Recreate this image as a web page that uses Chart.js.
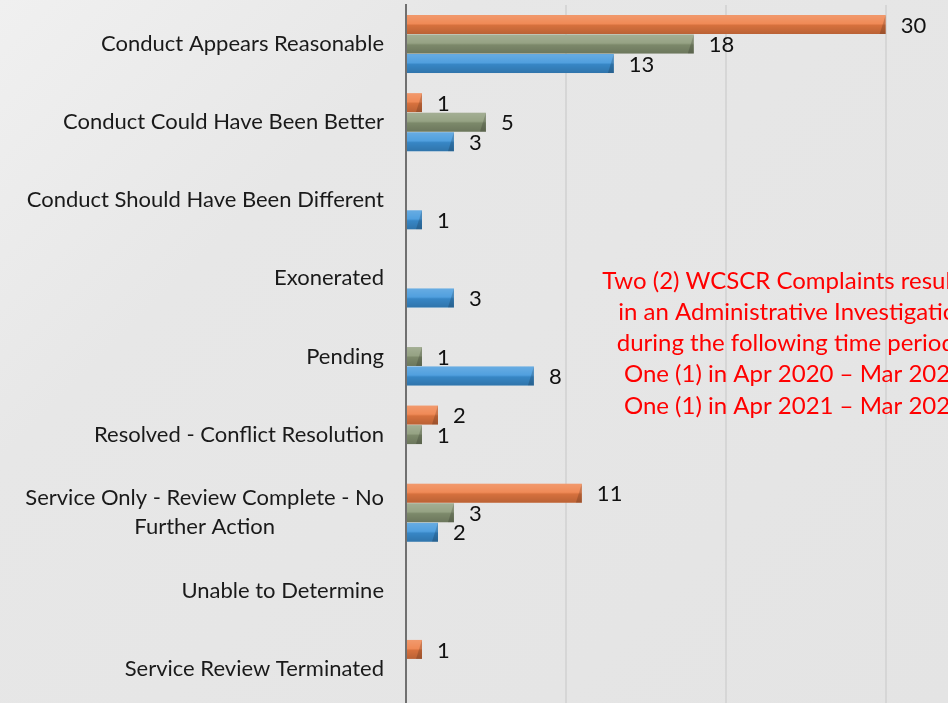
<!DOCTYPE html>
<html>
<head>
<meta charset="utf-8">
<script src="https://cdn.jsdelivr.net/npm/chart.js@4.4.1/dist/chart.umd.min.js"></script>
<style>
  html, body { margin: 0; padding: 0; overflow: hidden; }
  body {
    width: 948px;
    height: 703px;
    background: linear-gradient(135deg, #f0f0f0 0%, #e7e7e7 28%, #e4e4e4 100%);
  }
  .chart-wrap { position: relative; width: 948px; height: 708px; }
</style>
</head>
<body>
<div class="chart-wrap"><canvas id="outcomeChart"></canvas></div>
<script>
const categories = [
  "Conduct Appears Reasonable",
  "Conduct Could Have Been Better",
  "Conduct Should Have Been Different",
  "Exonerated",
  "Pending",
  "Resolved - Conflict Resolution",
  ["Service Only - Review Complete - No", "Further Action"],
  "Unable to Determine",
  "Service Review Terminated"
];

const orangeValues = [30, 1, null, null, null, 2, 11, null, 1];
const greenValues = [18, 5, null, null, 1, 1, 3, null, null];
const blueValues = [13, 3, 1, 3, 8, null, 2, null, null];

const noteLines = [
  "Two (2) WCSCR Complaints resulted",
  "in an Administrative Investigation",
  "during the following time periods:",
  "One (1) in Apr 2020 \u2013 Mar 2021",
  "One (1) in Apr 2021 \u2013 Mar 2022"
];

const FONT = "Lato, 'Open Sans', sans-serif";

// light top / dark bottom shading plus a small end bevel
const barShading = {
  id: "barShading",
  afterDatasetsDraw(chart) {
    const ctx = chart.ctx;
    chart.data.datasets.forEach((ds, di) => {
      chart.getDatasetMeta(di).data.forEach((el, i) => {
        if (ds.data[i] == null) return;
        const { x, y, base, height } = el.getProps(["x", "y", "base", "height"], true);
        const left = Math.min(x, base);
        const right = Math.max(x, base);
        const w = right - left;
        const top = y - height / 2;
        const g = ctx.createLinearGradient(0, top, 0, top + height);
        g.addColorStop(0, "rgba(255,255,255,0.22)");
        g.addColorStop(0.45, "rgba(255,255,255,0.10)");
        g.addColorStop(0.55, "rgba(0,0,0,0.10)");
        g.addColorStop(1, "rgba(0,0,0,0.22)");
        ctx.save();
        ctx.fillStyle = g;
        ctx.fillRect(left, top, w, height);
        const bev = Math.min(6, w / 2);
        ctx.fillStyle = "rgba(0,0,0,0.16)";
        ctx.beginPath();
        ctx.moveTo(right - bev, top + height);
        ctx.lineTo(right, top);
        ctx.lineTo(right, top + height);
        ctx.closePath();
        ctx.fill();
        ctx.restore();
      });
    });
  }
};

const valueLabels = {
  id: "valueLabels",
  afterDatasetsDraw(chart) {
    const ctx = chart.ctx;
    ctx.save();
    ctx.font = "22px " + FONT;
    ctx.fillStyle = "#111";
    ctx.textAlign = "left";
    ctx.textBaseline = "middle";
    chart.data.datasets.forEach((ds, di) => {
      chart.getDatasetMeta(di).data.forEach((el, i) => {
        if (ds.data[i] == null) return;
        ctx.fillText(String(ds.data[i]), el.x + 15, el.y + 1);
      });
    });
    ctx.restore();
  }
};

// category labels: right aligned block, lines centred inside it
const categoryLabels = {
  id: "categoryLabels",
  afterDraw(chart) {
    const ctx = chart.ctx;
    const yScale = chart.scales.y;
    const right = chart.chartArea.left - 22;
    ctx.save();
    ctx.font = "22px " + FONT;
    ctx.fillStyle = "#1a1a1a";
    ctx.textBaseline = "middle";
    ctx.textAlign = "center";
    categories.forEach((label, i) => {
      const lines = Array.isArray(label) ? label : [label];
      const widths = lines.map(l => ctx.measureText(l).width);
      const blockW = Math.max(...widths);
      const cx = right - blockW / 2;
      const lh = 29;
      const yc = yScale.getPixelForValue(i);
      lines.forEach((l, k) => {
        ctx.fillText(l, cx, yc + (k - (lines.length - 1) / 2) * lh);
      });
    });
    ctx.restore();
  }
};

const noteText = {
  id: "noteText",
  afterDraw(chart) {
    const ctx = chart.ctx;
    ctx.save();
    ctx.font = "24px " + FONT;
    ctx.fillStyle = "#ff0000";
    ctx.textAlign = "center";
    ctx.textBaseline = "middle";
    noteLines.forEach((l, k) => {
      ctx.fillText(l, 794, 281 + k * 31.2);
    });
    ctx.restore();
  }
};

new Chart(document.getElementById("outcomeChart"), {
  type: "bar",
  data: {
    labels: categories,
    datasets: [
      {
        label: "Series 1",
        data: orangeValues,
        backgroundColor: "#ee7d44"
      },
      {
        label: "Series 2",
        data: greenValues,
        backgroundColor: "#8a9876"
      },
      {
        label: "Series 3",
        data: blueValues,
        backgroundColor: "#3d95db"
      }
    ]
  },
  options: {
    indexAxis: "y",
    responsive: true,
    maintainAspectRatio: false,
    animation: false,
    layout: {
      padding: { top: 5, right: 0, bottom: 0, left: 0 }
    },
    datasets: {
      bar: {
        categoryPercentage: 0.75,
        barPercentage: 0.97,
        borderWidth: 0
      }
    },
    plugins: {
      legend: { display: false },
      tooltip: { enabled: false }
    },
    scales: {
      x: {
        min: 0,
        max: 33.9,
        ticks: {
          display: false,
          stepSize: 10,
          includeBounds: false
        },
        grid: {
          color: "#d6d6d6",
          lineWidth: 2,
          drawTicks: false
        },
        border: { display: false },
        afterFit(scale) {
          scale.height = 0;
        }
      },
      y: {
        ticks: { display: false },
        grid: { display: false },
        border: {
          display: true,
          color: "#707070",
          width: 2
        },
        afterFit(scale) {
          scale.width = 406;
        }
      }
    }
  },
  plugins: [barShading, valueLabels, categoryLabels, noteText]
});
</script>
</body>
</html>
